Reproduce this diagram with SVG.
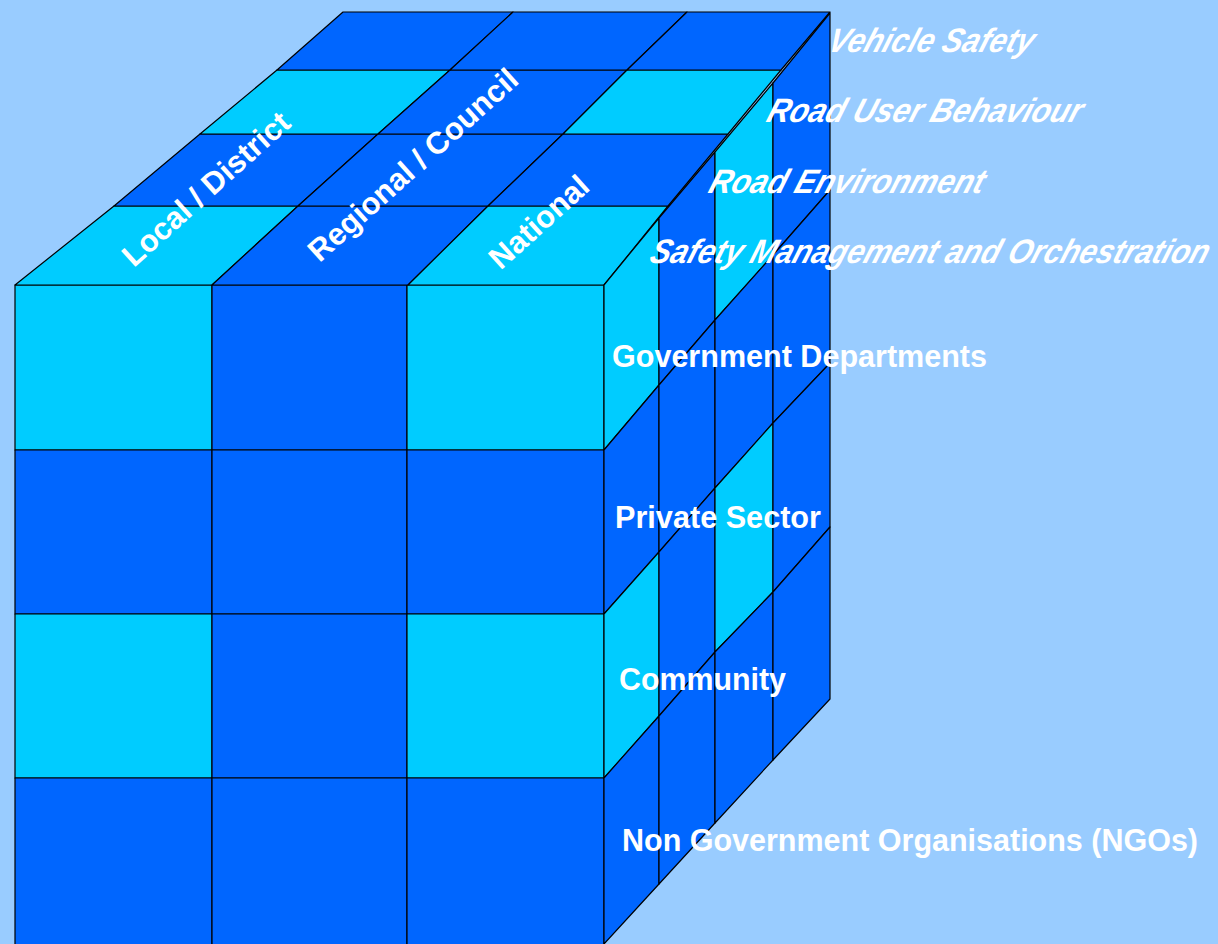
<svg xmlns="http://www.w3.org/2000/svg" width="1218" height="944" viewBox="0 0 1218 944">
  <style>
    .l{fill:#00CCFF;stroke:#000;stroke-width:1.2;stroke-linejoin:round}
    .d{fill:#0066FF;stroke:#000;stroke-width:1.2;stroke-linejoin:round}
    .lab{font-family:"Liberation Sans",Arial,sans-serif;font-weight:bold;fill:#fff}
    .top{font-size:31px;text-anchor:middle;dominant-baseline:central}
    .side{font-size:32px}
    .dim{font-size:34px;font-style:italic}
  </style>
  <rect width="1218" height="944" fill="#99CCFF"/>

  <!-- front face: 3 levels x 4 sectors -->
  <g id="front-face">
    <rect class="l" x="15" y="285" width="197" height="165"/>
    <rect class="d" x="212" y="285" width="195" height="165"/>
    <rect class="l" x="407" y="285" width="197" height="165"/>
    <rect class="d" x="15" y="450" width="197" height="164"/>
    <rect class="d" x="212" y="450" width="195" height="164"/>
    <rect class="d" x="407" y="450" width="197" height="164"/>
    <rect class="l" x="15" y="614" width="197" height="164"/>
    <rect class="d" x="212" y="614" width="195" height="164"/>
    <rect class="l" x="407" y="614" width="197" height="164"/>
    <rect class="d" x="15" y="778" width="197" height="180"/>
    <rect class="d" x="212" y="778" width="195" height="180"/>
    <rect class="d" x="407" y="778" width="197" height="180"/>
  </g>

  <!-- top face: 3 levels x 4 focus areas -->
  <g id="top-face">
    <polygon class="l" points="15,285 212,285 298,206 114,206"/>
    <polygon class="d" points="212,285 408,285 488,206 298,206"/>
    <polygon class="l" points="408,285 604,285 668,206 488,206"/>
    <polygon class="d" points="114,206 298,206 378,134 200,134"/>
    <polygon class="d" points="298,206 488,206 563,134 378,134"/>
    <polygon class="d" points="488,206 668,206 728,134 563,134"/>
    <polygon class="l" points="200,134 378,134 450,70 277,70"/>
    <polygon class="d" points="378,134 563,134 627,70 450,70"/>
    <polygon class="l" points="563,134 728,134 781,70 627,70"/>
    <polygon class="d" points="277,70 450,70 513,12 343,12"/>
    <polygon class="d" points="450,70 627,70 687,12 513,12"/>
    <polygon class="d" points="627,70 781,70 830,12 687,12"/>
  </g>

  <!-- right face: 4 focus areas x 4 sectors -->
  <g id="right-face">
    <polygon class="l" points="604,285 659,218 659,385 604,450"/>
    <polygon class="d" points="604,450 659,385 659,552 604,614"/>
    <polygon class="l" points="604,614 659,552 659,716 604,778"/>
    <polygon class="d" points="604,778 659,716 659,884 604,944"/>

    <polygon class="d" points="659,218 715,152 715,320 659,385"/>
    <polygon class="d" points="659,385 715,320 715,488 659,552"/>
    <polygon class="d" points="659,552 715,488 715,652 659,716"/>
    <polygon class="d" points="659,716 715,652 715,823 659,884"/>

    <polygon class="l" points="715,152 773,83 773,255 715,320"/>
    <polygon class="d" points="715,320 773,255 773,423 715,488"/>
    <polygon class="l" points="715,488 773,423 773,592 715,652"/>
    <polygon class="d" points="715,652 773,592 773,760 715,823"/>

    <polygon class="d" points="773,83 830,13 830,190 773,255"/>
    <polygon class="d" points="773,255 830,190 830,363 773,423"/>
    <polygon class="d" points="773,423 830,363 830,527 773,592"/>
    <polygon class="d" points="773,592 830,527 830,699 773,760"/>
  </g>

  <!-- level labels on the top face -->
  <g id="level-labels" class="lab top">
    <text transform="translate(206,189) rotate(-42)">Local / District</text>
    <text transform="translate(413,165) rotate(-42)">Regional / Council</text>
    <text transform="translate(539,222) rotate(-42)">National</text>
  </g>

  <!-- focus area labels, slanted beyond a plain italic -->
  <g id="focus-labels" class="lab dim">
    <text transform="translate(826,52) skewX(-18)" textLength="205" lengthAdjust="spacingAndGlyphs">Vehicle Safety</text>
    <text transform="translate(765,122) skewX(-18)" textLength="314" lengthAdjust="spacingAndGlyphs">Road User Behaviour</text>
    <text transform="translate(707,193) skewX(-18)" textLength="274" lengthAdjust="spacingAndGlyphs">Road Environment</text>
    <text transform="translate(648,263) skewX(-18)" textLength="558" lengthAdjust="spacingAndGlyphs">Safety Management and Orchestration</text>
  </g>

  <!-- sector labels -->
  <g id="sector-labels" class="lab side">
    <text x="612" y="367" textLength="375" lengthAdjust="spacingAndGlyphs">Government Departments</text>
    <text x="615" y="528" textLength="206" lengthAdjust="spacingAndGlyphs">Private Sector</text>
    <text x="619" y="690" textLength="167" lengthAdjust="spacingAndGlyphs">Community</text>
    <text x="622" y="851" textLength="576" lengthAdjust="spacingAndGlyphs">Non Government Organisations (NGOs)</text>
  </g>
</svg>
